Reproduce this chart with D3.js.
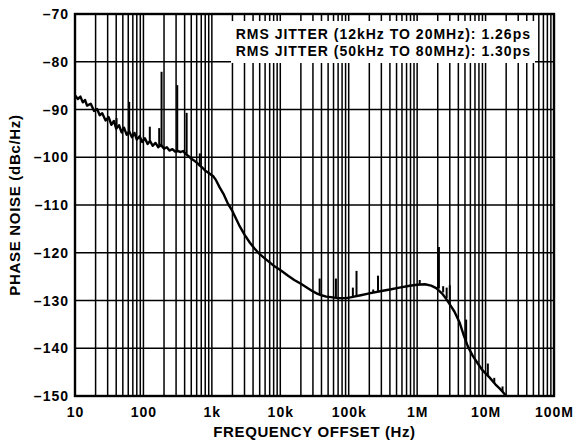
<!DOCTYPE html>
<html>
<head>
<meta charset="utf-8">
<script src="https://cdn.jsdelivr.net/npm/d3@7.9.0/dist/d3.min.js"></script>
<style>
  html, body { margin: 0; padding: 0; background: #fff; }
  svg { display: block; font-family: "Liberation Sans", Arial, sans-serif; font-weight: bold; }
</style>
</head>
<body>
<svg id="chart" width="574" height="444"></svg>
<script>
// Phase noise curve (Hz, dBc/Hz)
const freq = [10, 11, 12, 13, 14, 15, 17, 19, 21, 23, 25, 28, 31, 34, 37, 40, 44, 48, 52, 57,
  62, 68, 74, 80, 88, 96, 105, 115, 125, 137, 150, 165, 180, 200, 220, 240, 265, 290, 320, 350,
  380, 420, 460, 500, 550, 600, 660, 730, 800, 880, 960, 1050, 1150, 1300, 1470, 1700, 2000, 2500,
  3000, 3600, 4200, 5000, 6300, 8000, 10000, 13000, 16000, 20000, 25000, 30000, 35000, 40000,
  47000, 55000, 70000, 92000, 110000, 150000, 200000, 300000, 400000, 550000, 780000, 1000000,
  1300000, 1600000, 1900000, 2300000, 2670000, 3150000, 3500000, 4170000, 4800000, 5500000,
  6500000, 7700000, 9000000, 11400000, 14000000, 16000000, 18000000, 20000000];
const noise = [-87.0, -87.8, -87.3, -88.5, -88.0, -89.2, -88.8, -90.3, -89.9, -91.2, -90.8, -92.3,
  -91.6, -93.2, -92.4, -94.0, -93.3, -94.8, -93.8, -95.3, -94.6, -95.8, -94.9, -96.3, -95.6, -96.8,
  -96.0, -97.2, -96.6, -97.6, -97.0, -97.9, -97.4, -98.2, -97.9, -98.6, -98.3, -98.8, -98.7, -98.9,
  -98.7, -99.4, -99.8, -100.3, -100.7, -101.1, -101.7, -102.2, -102.8, -103.2, -103.6, -104.0,
  -104.8, -106.3, -107.6, -109.6, -111.3, -114.2, -116.2, -117.9, -119.1, -120.3, -121.5, -122.7,
  -123.6, -124.8, -125.7, -126.5, -127.4, -128.1, -128.6, -128.9, -129.2, -129.3, -129.5, -129.5,
  -129.3, -128.9, -128.5, -128.0, -127.7, -127.3, -126.9, -126.7, -126.6, -126.9, -127.4, -128.5,
  -129.7, -131.3, -132.3, -134.6, -137.3, -139.6, -141.6, -143.2, -144.6, -146.1, -147.6, -148.4,
  -149.2, -150.0];

// Spurs: frequency, floor level and peak level
const spurFreq = [40.5, 62, 124, 170, 184, 312, 428, 667, 37600, 65000, 115000, 130000, 228000,
  268000, 1090000, 2080000, 2400000, 2700000, 3000000, 5200000, 10800000, 13400000, 17700000];
const spurBase = [-93.6, -94.6, -96.8, -97.7, -97.9, -98.7, -99.4, -101.6, -128.7, -129.4, -129.3,
  -129.1, -128.4, -128.2, -126.7, -127.5, -128.3, -129.5, -130.8, -138.8, -145.7, -147.2, -149.0];
const spurPeak = [-91.8, -88.4, -93.6, -93.9, -82.1, -84.9, -90.7, -99.2, -125.4, -125.4, -127.3,
  -123.8, -127.7, -124.8, -125.7, -118.8, -127.0, -127.3, -126.8, -134.0, -143.2, -146.2, -148.0];

const xTicks = [10, 100, 1e3, 1e4, 1e5, 1e6, 1e7, 1e8];
const xTickLabels = ['10', '100', '1k', '10k', '100k', '1M', '10M', '100M'];
const yTicks = [-70, -80, -90, -100, -110, -120, -130, -140, -150];
const notes = ['RMS JITTER (12kHz TO 20MHz): 1.26ps', 'RMS JITTER (50kHz TO 80MHz): 1.30ps'];

const margin = { top: 14, right: 20, bottom: 48, left: 75 };
const width = 574, height = 444;

const svg = d3.select('#chart');

const x = d3.scaleLog()
  .domain([10, 1e8])
  .range([margin.left, width - margin.right]);

const y = d3.scaleLinear()
  .domain([-150, -70])
  .range([height - margin.bottom, margin.top]);

// Minor grid: 2..9 of every decade
const gridX = [];
for (let d = 10; d < 1e8; d *= 10) {
  for (let k = 2; k <= 10; k++) gridX.push(d * k);
}

const grid = svg.append('g').attr('stroke', '#000').attr('stroke-width', 1.5);
grid.selectAll('line.v')
  .data(gridX)
  .join('line')
  .attr('class', 'v')
  .attr('x1', (d) => x(d))
  .attr('x2', (d) => x(d))
  .attr('y1', y(-70))
  .attr('y2', y(-150));
grid.selectAll('line.h')
  .data(yTicks)
  .join('line')
  .attr('class', 'h')
  .attr('x1', x(10))
  .attr('x2', x(1e8))
  .attr('y1', (d) => y(d))
  .attr('y2', (d) => y(d));

// Jitter note box, covers the grid
svg.append('rect')
  .attr('x', 231)
  .attr('y', 21)
  .attr('width', 304)
  .attr('height', 42)
  .attr('fill', '#fff');

svg.append('g')
  .selectAll('text')
  .data(notes)
  .join('text')
  .attr('x', 531)
  .attr('y', (d, i) => 39 + i * 17)
  .attr('text-anchor', 'end')
  .attr('font-size', 14)
  .attr('letter-spacing', 1)
  .text((d) => d);

// Curve
const line = d3.line()
  .x((d) => x(d[0]))
  .y((d) => y(d[1]));

svg.append('path')
  .datum(d3.zip(freq, noise))
  .attr('d', line)
  .attr('fill', 'none')
  .attr('stroke', '#000')
  .attr('stroke-width', 2.4)
  .attr('stroke-linejoin', 'round');

svg.append('g')
  .selectAll('line')
  .data(d3.range(spurFreq.length))
  .join('line')
  .attr('x1', (i) => x(spurFreq[i]))
  .attr('x2', (i) => x(spurFreq[i]))
  .attr('y1', (i) => y(spurBase[i]))
  .attr('y2', (i) => y(spurPeak[i]))
  .attr('stroke', '#000')
  .attr('stroke-width', 2);

// Frame
svg.append('rect')
  .attr('x', x(10))
  .attr('y', y(-70))
  .attr('width', x(1e8) - x(10))
  .attr('height', y(-150) - y(-70))
  .attr('fill', 'none')
  .attr('stroke', '#000')
  .attr('stroke-width', 2.4);

// Tick labels
svg.append('g')
  .selectAll('text')
  .data(yTicks)
  .join('text')
  .attr('x', 69)
  .attr('y', (d) => y(d))
  .attr('dy', '0.36em')
  .attr('text-anchor', 'end')
  .attr('font-size', 14)
  .attr('letter-spacing', 1)
  .text((d) => '\u2013' + Math.abs(d));

svg.append('g')
  .selectAll('text')
  .data(xTicks)
  .join('text')
  .attr('x', (d) => x(d) + 0.5)
  .attr('y', 412)
  .attr('dy', '0.36em')
  .attr('text-anchor', 'middle')
  .attr('font-size', 14)
  .attr('letter-spacing', 1)
  .text((d, i) => xTickLabels[i]);

// Axis titles
svg.append('text')
  .attr('x', (x(10) + x(1e8)) / 2)
  .attr('y', 432)
  .attr('dy', '0.36em')
  .attr('text-anchor', 'middle')
  .attr('font-size', 15)
  .attr('letter-spacing', 0.6)
  .text('FREQUENCY OFFSET (Hz)');

svg.append('text')
  .attr('transform', `translate(15,${(y(-70) + y(-150)) / 2}) rotate(-90)`)
  .attr('dy', '0.36em')
  .attr('text-anchor', 'middle')
  .attr('font-size', 15)
  .attr('letter-spacing', 0.7)
  .text('PHASE NOISE (dBc/Hz)');
</script>
</body>
</html>
